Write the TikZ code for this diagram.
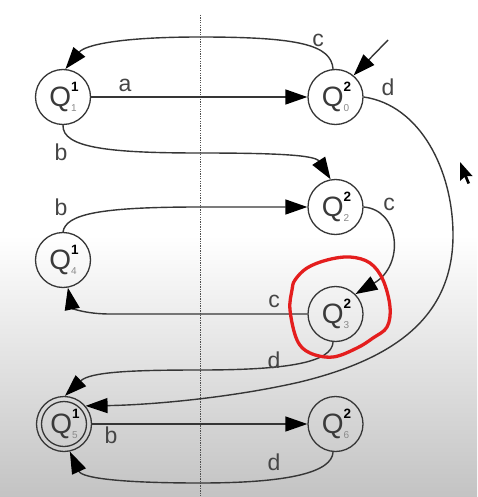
\documentclass[tikz,border=0pt]{standalone}
\usepackage{fontspec}
\setmainfont{Liberation Sans}
\usetikzlibrary{arrows.meta}
\definecolor{ln}{HTML}{363636}
\definecolor{lab}{HTML}{454545}
\definecolor{qc}{HTML}{3a3a3a}
\definecolor{subc}{HTML}{8a8a8a}
\definecolor{redmark}{HTML}{E41E1E}
\definecolor{dashc}{HTML}{505050}
\newcommand\qlbl[2]{\color{qc}\fontsize{28}{28}\selectfont Q\rlap{\raisebox{14.5pt}{\color{black}\fontsize{13.5}{13.5}\selectfont\bfseries #1}}\raisebox{-5pt}{\color{subc}\fontsize{10}{10}\selectfont #2}}
\begin{document}
\begin{tikzpicture}[x=1pt,y=-1pt,
  state/.style={circle,draw=ln,line width=1.3pt,minimum size=55pt,inner sep=0pt},
  inring/.style={circle,draw=ln,line width=1.3pt,minimum size=45pt,inner sep=0pt},
  edge/.style={draw=ln,line width=1.4pt,-{Triangle[length=22pt,width=15pt,color=black]}},
  lbl/.style={inner sep=0pt,text=lab,font=\fontsize{23}{23}\selectfont},
  dashline/.style={draw=dashc,line width=1pt,dash pattern=on 1.3pt off 1.1pt}]
\useasboundingbox (0,0) rectangle (477,497);
\fill[white] (0,0) rectangle (477,497);
\shade[top color=white,bottom color=gray!47] (0,235) rectangle (477,497);
\draw[dashline] (200,15) -- (200,497);

\node[state] (q11) at (63,97) {\qlbl{1}{1}};
\node[state] (q20) at (335.5,97) {\qlbl{2}{0}};
\node[state] (q22) at (335.5,207) {\qlbl{2}{2}};
\node[state] (q14) at (63,260) {\qlbl{1}{4}};
\node[state] (q23) at (335.5,314) {\qlbl{2}{3}};
\node[state] (q15) at (64,424) {\qlbl{1}{5}};
\node[inring] (q15in) at (64,424) {};
\node[state] (q26) at (335.5,424) {\qlbl{2}{6}};
\coordinate (init) at (388,40);

\draw[edge] (init) -- (q20.50);
\draw[edge] (q20.95) .. controls (331,45) and (300,37) .. (200,37) .. controls (120,37) and (85,45) .. (q11.85);
\draw[edge] (q11) -- (q20);
\draw[edge] (q11.south) .. controls (62,148) and (110,153) .. (200,153) .. controls (275,153) and (315,155) .. (q22.100);
\draw[edge] (q20.east) .. controls (420,105) and (453,170) .. (453,235) .. controls (453,320) and (390,360) .. (300,382) .. controls (230,398) and (150,405) .. (q15.40);
\draw[edge] (q14.north) .. controls (66,214) and (100,207) .. (200,207) -- (q22.west);
\draw[edge] (q22.east) .. controls (400,210) and (405,265) .. (q23.45);
\draw[edge] (q23.west) -- (110,314) .. controls (85,314) and (72,308) .. (q14.-80);
\draw[edge] (q23.-95) .. controls (332,362) and (290,370) .. (200,370) .. controls (130,370) and (90,372) .. (q15.88);
\draw[edge] (q15) -- (q26);
\draw[edge] (q26.-95) .. controls (332,472) and (290,483) .. (200,483) .. controls (120,483) and (82,478) .. (q15.-78);

\node[lbl] (la) at (125,85) {a};
\node[lbl] (lc1) at (318,40) {c};
\node[lbl] (ld1) at (388,87) {d};
\node[lbl] (lb1) at (61,152) {b};
\node[lbl] (lb2) at (61,207) {b};
\node[lbl] (lc2) at (389,204) {c};
\node[lbl] (lc3) at (274,301) {c};
\node[lbl] (ld2) at (274,360) {d};
\node[lbl] (lb3) at (111,435) {b};
\node[lbl] (ld3) at (274,462) {d};

\draw[redmark,line width=3.3pt,line join=round,line cap=round] plot[smooth cycle,tension=0.6] coordinates {(295,280) (307,268) (327,260) (350,257) (370,263) (383,280) (390,307) (387,327) (373,338) (357,348) (333,357) (310,353) (297,340) (290,310) (292,290)};
\fill[black] (460,162) -- (460,181) -- (464.5,177) -- (467.5,184) -- (470,183) -- (467,176) -- (472.5,176) -- cycle;
\end{tikzpicture}
\end{document}
